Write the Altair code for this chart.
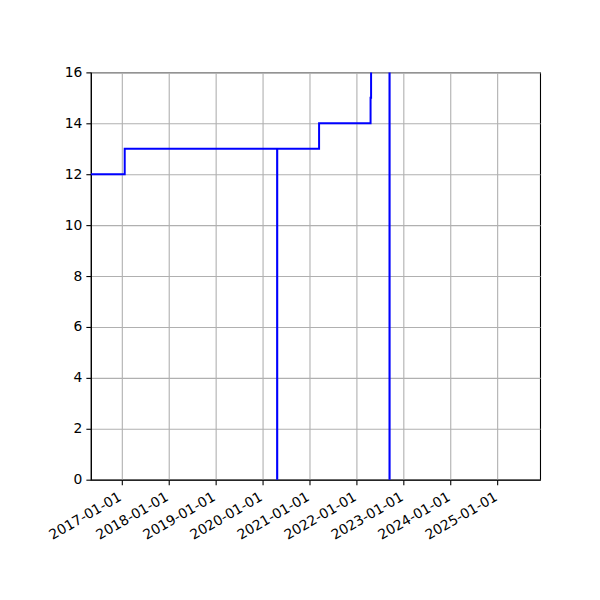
import altair as alt
import pandas as pd

# step series (step-after)
dates = ["2016-05-09", "2017-01-27", "2020-04-25", "2020-04-26", "2021-03-17",
         "2022-04-21", "2022-04-25", "2022-09-15", "2022-09-16"]
values = [12, 13, 0, 13, 14, 15, 20, 0, 20]

x_start = "2016-05-09"
x_end = "2025-11-28"
tick_years = [2017, 2018, 2019, 2020, 2021, 2022, 2023, 2024, 2025]
y_ticks = [0, 2, 4, 6, 8, 10, 12, 14, 16]

df = pd.DataFrame({"date": [d + "T00:00:00" for d in dates], "value": values})

chart = alt.Chart(df).mark_line(
    color="#0000ff", strokeWidth=2, interpolate="step-after", clip=True
).encode(
    x=alt.X("date:T",
            scale=alt.Scale(domain=[x_start + "T00:00:00", x_end + "T00:00:00"], nice=False),
            axis=alt.Axis(title=None,
                          values=[alt.DateTime(year=y, month=1, date=1) for y in tick_years],
                          format="%Y-%m-%d", labelAngle=330, labelAlign="right",
                          labelBaseline="top", labelPadding=5, labelOffset=-5,
                          labelOverlap=False)),
    y=alt.Y("value:Q",
            scale=alt.Scale(domain=[0, 16], nice=False, zero=False),
            axis=alt.Axis(title=None, values=y_ticks, format="d", labelPadding=4)),
).properties(
    width=450, height=408,
    autosize=alt.AutoSizeParams(type="none"),
    padding={"left": 83, "top": 64, "right": 52, "bottom": 112},
).configure_view(
    stroke="black", strokeWidth=1.1
).configure_axis(
    grid=True, gridColor="#b0b0b0", gridWidth=1.1, gridOpacity=1,
    domainColor="black", domainWidth=1.1,
    tickColor="black", tickWidth=1.1, tickSize=5,
    labelColor="black", labelFont="DejaVu Sans", labelFontSize=13.9,
)

chart.save("out.html", embed_options={"renderer": "svg", "actions": False})
